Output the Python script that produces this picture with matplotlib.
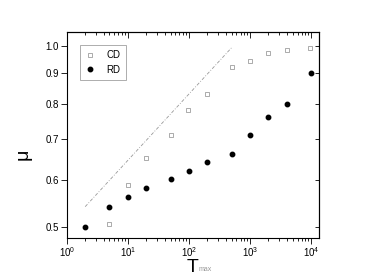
import matplotlib
matplotlib.use("Agg")
import matplotlib.pyplot as plt
from matplotlib.ticker import FixedLocator, NullLocator, LogLocator, FixedFormatter

plt.rcParams['font.family'] = ['Liberation Sans', 'DejaVu Sans']

# data
t_rd = [2, 5, 10, 20, 50, 100, 200, 500, 1000, 2000, 4000, 10000]
mu_rd = [0.50, 0.54, 0.561, 0.581, 0.601, 0.621, 0.641, 0.661, 0.711, 0.762, 0.801, 0.903]

t_cd = [5, 10, 20, 50, 95, 200, 500, 1000, 2000, 4000, 9500]
mu_cd = [0.506, 0.587, 0.651, 0.711, 0.782, 0.831, 0.923, 0.944, 0.972, 0.983, 0.993]

# guide line
t_fit = [2, 500]
mu_fit = [0.541, 0.993]

yticks = [0.5, 0.6, 0.7, 0.8, 0.9, 1.0]
yticklabels = ["0.5", "0.6", "0.7", "0.8", "0.9", "1.0"]

fig = plt.figure(figsize=(3.71, 2.75), dpi=100)
ax = fig.add_axes([0.180, 0.1345, 0.680, 0.749])

ax.plot(t_fit, mu_fit, color='#999999', lw=0.6, ls=(0, (4, 2, 1, 2)))
ax.plot(t_cd, mu_cd, ls='none', marker='s', ms=2.6, mfc='none', mec='#8a8a8a',
        mew=0.5, label='CD')
ax.plot(t_rd, mu_rd, ls='none', marker='o', ms=3.2, color='black', label='RD')

ax.set_xscale('log')
ax.set_yscale('log')
ax.set_xlim(1, 1.35e4)
ax.set_ylim(0.48, 1.054)

ax.yaxis.set_major_locator(FixedLocator(yticks))
ax.yaxis.set_major_formatter(FixedFormatter(yticklabels))
ax.yaxis.set_minor_locator(NullLocator())
ax.xaxis.set_major_locator(LogLocator(base=10, numticks=10))
ax.xaxis.set_minor_locator(LogLocator(base=10, subs=range(2, 10), numticks=20))

ax.tick_params(which='both', direction='out', labelsize=7, width=0.6,
               top=False, right=False)
ax.tick_params(which='major', length=4, pad=1.5)
ax.tick_params(which='minor', length=2)

# mirrored ticks pointing inward on top and right
top = ax.secondary_xaxis('top')
top.xaxis.set_minor_locator(LogLocator(base=10, subs=range(2, 10), numticks=20))
top.tick_params(which='both', direction='in', labeltop=False, width=0.6)
top.tick_params(which='major', length=4)
top.tick_params(which='minor', length=2)
right = ax.secondary_yaxis('right')
right.yaxis.set_major_locator(FixedLocator(yticks))
right.yaxis.set_minor_locator(NullLocator())
right.tick_params(which='both', direction='in', labelright=False, width=0.6, length=3)

for s in ax.spines.values():
    s.set_linewidth(0.8)

leg = ax.legend(loc='upper left', bbox_to_anchor=(0.035, 0.96), fontsize=7,
                frameon=True, fancybox=False, edgecolor='#888888',
                handlelength=1.0, handletextpad=1.2, borderpad=0.5,
                labelspacing=0.5)
leg.get_frame().set_linewidth(0.6)

fig.text(0.062, 0.44, "μ", rotation=90, fontsize=14, ha='center', va='center')
fig.text(0.518, 0.012, "T", fontsize=14, ha='center', va='baseline')
fig.text(0.535, 0.015, "max", fontsize=5, color='#999999', ha='left', va='baseline')

fig.savefig("out.png", dpi=100)
